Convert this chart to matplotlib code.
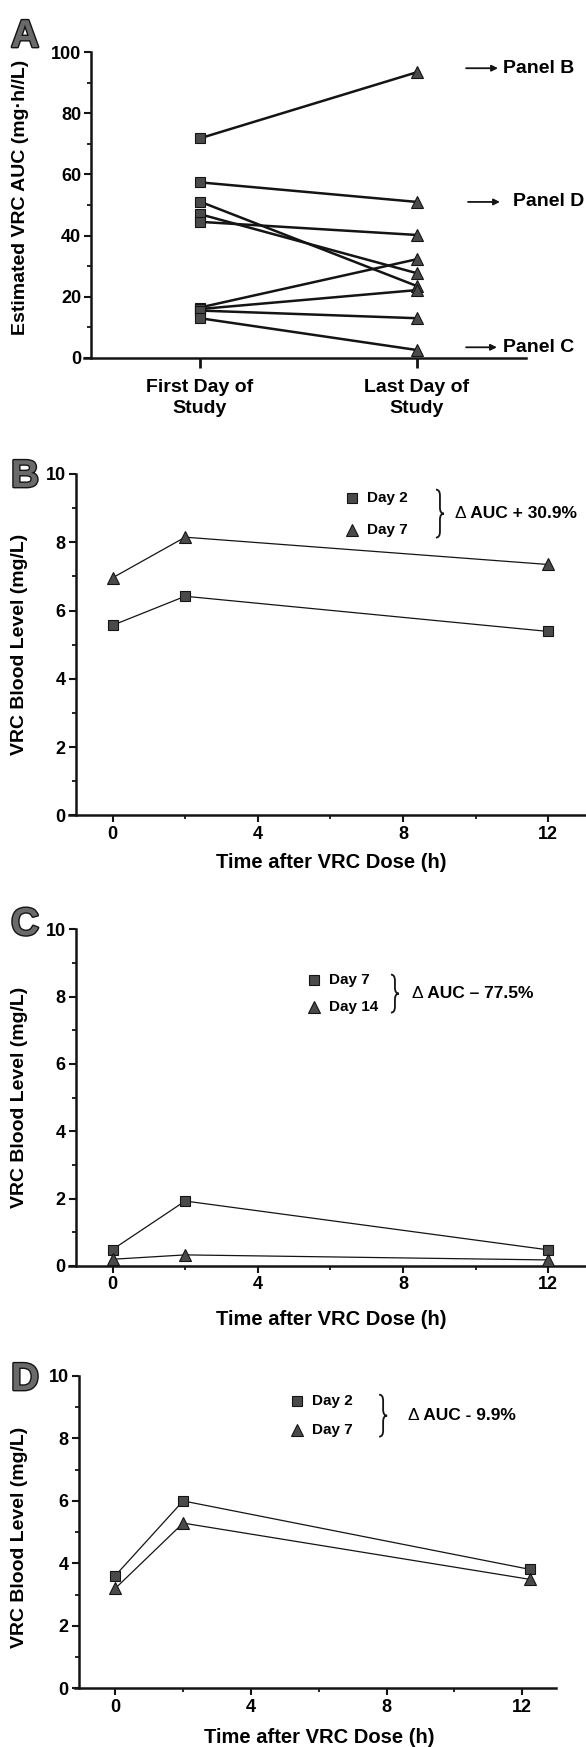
import matplotlib.pyplot as plt
from matplotlib import patheffects
from matplotlib.path import Path
from matplotlib.patches import PathPatch
from matplotlib.transforms import IdentityTransform
from matplotlib.ticker import MultipleLocator

plt.rcParams['font.family'] = ['Liberation Sans', 'DejaVu Sans']
plt.rcParams['font.weight'] = 'bold'
plt.rcParams['axes.labelweight'] = 'bold'

W, H = 586, 1747

# panel A: estimated AUC per patient, first vs last day
a_days = ['First Day of\nStudy', 'Last Day of\nStudy']
a_first = [71.8, 57.4, 51.1, 47.0, 44.5, 16.5, 16.0, 15.5, 13.0]
a_last = [93.4, 51.0, 23.5, 27.7, 40.2, 32.3, 22.2, 13.0, 2.6]
a_links = ['Panel B', 'Panel D', 'Panel C']
a_link_y = [94.7, 51.0, 3.5]

# panels B-D: blood levels after a dose
times_b = [0, 2, 12]
b_day2 = [5.57, 6.42, 5.39]
b_day7 = [6.96, 8.15, 7.35]
b_labels = ['Day 2', 'Day 7']
b_delta = 'AUC + 30.9%'

times_c = [0, 2, 12]
c_day7 = [0.49, 1.93, 0.48]
c_day14 = [0.20, 0.33, 0.18]
c_labels = ['Day 7', 'Day 14']
c_delta = 'AUC \u2013 77.5%'

times_d = [0, 2, 12.22]
d_day2 = [3.61, 6.00, 3.81]
d_day7 = [3.20, 5.29, 3.49]
d_labels = ['Day 2', 'Day 7']
d_delta = 'AUC - 9.9%'

INK = '#141414'
FILL = '#4a4a4a'

fig = plt.figure(figsize=(W / 100, H / 100), dpi=100)


def add_axes(left, right, top, bottom):
    return fig.add_axes([left / W, 1 - bottom / H, (right - left) / W, (bottom - top) / H])


def style(ax, xlim, yspine, ylim):
    ax.set_xlim(*xlim)
    ax.set_ylim(*ylim)
    ax.spines['left'].set_position(('data', yspine))
    for s in ['top', 'right']:
        ax.spines[s].set_visible(False)
    for s in ['left', 'bottom']:
        ax.spines[s].set_linewidth(1.8)
        ax.spines[s].set_color(INK)
    ax.tick_params(which='major', length=5, width=1.5, labelsize=13, pad=2.5, color=INK)
    ax.tick_params(which='minor', length=3, width=1.3, color=INK)
    ax.patch.set_alpha(0)


def panel_letter(letter, baseline):
    t = fig.text(11 / W, 1 - baseline / H, letter, fontsize=28, fontweight='bold',
                 color='#6a6a6a', va='baseline', ha='left')
    t.set_path_effects([patheffects.Stroke(linewidth=2.0, foreground=INK), patheffects.Normal()])


def brace(ax, xd, yd, half, w=8, r=6):
    # thin right-facing curly brace, size in pixels around a data point
    cx, cy = ax.transData.transform((xd, yd))
    x0, xm, x1 = cx - w / 2, cx, cx + w / 2
    top, bot = cy + half, cy - half
    verts = [(x0, top), (xm, top), (xm, top - r), (xm, cy + r), (xm, cy), (x1, cy),
             (xm, cy), (xm, cy - r), (xm, bot + r), (xm, bot), (x0, bot)]
    codes = [Path.MOVETO, Path.CURVE3, Path.CURVE3, Path.LINETO, Path.CURVE3, Path.CURVE3,
             Path.CURVE3, Path.CURVE3, Path.LINETO, Path.CURVE3, Path.CURVE3]
    fig.add_artist(PathPatch(Path(verts, codes), fill=False, lw=1.3, ec=INK,
                             transform=IdentityTransform()))


# ---------------- panel A ----------------
axA = add_axes(84.5, 526, 52, 358)
style(axA, (-0.532, 1.502), -0.5, (0, 100))
for f, l in zip(a_first, a_last):
    axA.plot([0, 1], [f, l], color=INK, lw=1.8, zorder=2)
axA.plot([0] * len(a_first), a_first, 's', ms=7.5, mfc=FILL, mec=INK, mew=0.8, zorder=3, clip_on=False)
axA.plot([1] * len(a_last), a_last, '^', ms=9, mfc=FILL, mec=INK, mew=0.8, zorder=3, clip_on=False)
axA.yaxis.set_major_locator(MultipleLocator(20))
axA.yaxis.set_minor_locator(MultipleLocator(10))
axA.set_xticks([0, 1])
axA.set_xticklabels(a_days, fontsize=14, linespacing=1.3)
axA.tick_params(axis='x', which='major', length=7, width=2, pad=8)
axA.set_ylabel('Estimated VRC AUC (mg\u00b7h//L)', fontsize=14)
axA.yaxis.set_label_coords((29 - 84.5) / 441.5, 0.526)
link_x = [(1.226, 1.373, 1.396), (1.235, 1.382, 1.44), (1.226, 1.368, 1.396)]
for name, y, (x0, x1, xt) in zip(a_links, a_link_y, link_x):
    axA.annotate('', xy=(x1, y), xytext=(x0, y), annotation_clip=False,
                 arrowprops=dict(arrowstyle='-|>', lw=1.3, color=INK, mutation_scale=9,
                                 shrinkA=0, shrinkB=0))
    axA.text(xt, y, name, fontsize=14, ha='left', va='center', clip_on=False)
panel_letter('A', 47)


# ---------------- panels B-D ----------------
def time_panel(box, xlim, yspine, times, s1, s2, labels, delta, key, xlabel_y, ylabel_y):
    left, right, top, bottom = box
    ax = add_axes(left, right, top, bottom)
    style(ax, xlim, yspine, (0, 10))
    ax.plot(times, s1, '-s', color=INK, lw=0.9, ms=6.5, mfc=FILL, mec=INK, mew=0.8, clip_on=False, zorder=3)
    ax.plot(times, s2, '-^', color=INK, lw=0.9, ms=8, mfc=FILL, mec=INK, mew=0.8, clip_on=False, zorder=3)
    ax.xaxis.set_major_locator(MultipleLocator(4))
    ax.xaxis.set_minor_locator(MultipleLocator(2))
    ax.yaxis.set_major_locator(MultipleLocator(2))
    ax.yaxis.set_minor_locator(MultipleLocator(1))
    ax.set_xlabel('Time after VRC Dose (h)', fontsize=14.5)
    ax.xaxis.label.set_va('center')
    ax.xaxis.set_label_coords(0.507, xlabel_y)
    ax.set_ylabel('VRC Blood Level (mg/L)', fontsize=14)
    ax.yaxis.set_label_coords((28 - left) / (right - left), ylabel_y)

    mx, tx, y1, y2, bx, dx, half = key
    ax.plot([mx], [y1], 's', ms=6.5, mfc=FILL, mec=INK, mew=0.8)
    ax.plot([mx], [y2], '^', ms=8, mfc=FILL, mec=INK, mew=0.8)
    ax.text(tx, y1, labels[0], fontsize=11, ha='left', va='center')
    ax.text(tx, y2, labels[1], fontsize=11, ha='left', va='center')
    yc = (y1 + y2) / 2
    brace(ax, bx, yc, half)
    ax.text(dx, yc, '\u0394', fontsize=12.5, fontweight='normal', ha='left', va='center')
    ax.annotate(' ' + delta, xy=(dx, yc), xytext=(8.2, 0), textcoords='offset points',
                fontsize=12.5, ha='left', va='center')
    return ax


time_panel((69, 585.5, 474, 815.5), (-1.2, 13.03), -1.0, times_b, b_day2, b_day7,
           b_labels, b_delta, (6.6, 7.01, 9.31, 8.37, 9.02, 9.43, 24), -0.139, 0.5)
panel_letter('B', 487)

time_panel((69, 585.5, 929.3, 1266), (-1.2, 13.03), -1.0, times_c, c_day7, c_day14,
           c_labels, c_delta, (5.56, 5.96, 8.5, 7.68, 7.78, 8.24, 19), -0.160, 0.5)
panel_letter('C', 935)

time_panel((75, 556, 1376, 1688.3), (-1.19, 13.0), -1.07, times_d, d_day2, d_day7,
           d_labels, d_delta, (5.35, 5.8, 9.2, 8.26, 7.9, 8.63, 21), -0.157, 0.484)
panel_letter('D', 1390)

fig.savefig('out.png', dpi=100)
